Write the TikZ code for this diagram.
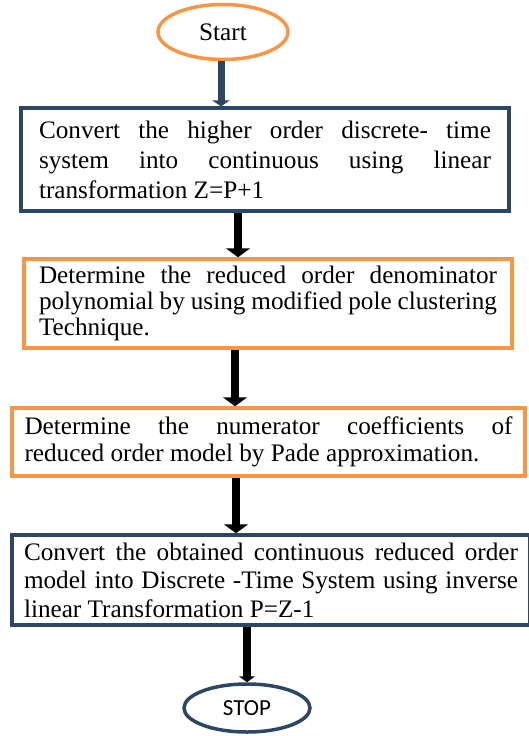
\documentclass[tikz,border=0pt]{standalone}
\usepackage{fontspec}
\setmainfont{Liberation Serif}
\newfontfamily\stopfont{Carlito}
\usetikzlibrary{shapes.geometric, arrows.meta}
\definecolor{flowor}{HTML}{F79646}
\definecolor{flowbl}{HTML}{2C4666}
\tolerance=10000 \hbadness=10000
\hyphenpenalty=10000 \exhyphenpenalty=10000
\tikzset{
  box/.style={draw, line width=3.5pt, inner sep=0pt, align=justify,
    font=\fontsize{25.2}{#1}\selectfont},
  box/.default=28,
  oval/.style={ellipse, draw, line width=3.5pt, inner sep=0pt},
  link/.style={line width=8pt, -{Triangle[width=24pt,length=9pt]}}
}

\begin{document}
\begin{tikzpicture}[x=1pt, y=-1pt]
\useasboundingbox (0,0) rectangle (528,736);

\node[oval, draw=flowor, minimum width=130pt, minimum height=55pt,
  font=\fontsize{25.2}{28}\selectfont] (start) at (223,32) {Start};
\node[box=30, draw=flowbl, text width=452pt, minimum width=488pt, minimum height=103pt] (convert) at (265,159.5)
  {Convert the higher order discrete- time\linebreak system into continuous using linear\linebreak transformation Z=P+1};
\node[box=26, draw=flowor, text width=458pt, minimum width=488pt, minimum height=89pt] (denom) at (268,303.5)
  {Determine the reduced order denominator\linebreak polynomial by using modified pole clustering\linebreak Technique.};
\node[box=27, draw=flowor, text width=488pt, minimum width=513pt, minimum height=68pt] (numer) at (268.5,442)
  {Determine the numerator coefficients of\linebreak reduced order model by Pade approximation.};
\node[box=28.5, draw=flowbl, text width=494pt, minimum width=518pt, minimum height=90pt] (inverse) at (271,580)
  {Convert the obtained continuous reduced order\linebreak model into Discrete -Time System using inverse\linebreak linear Transformation P=Z-1};
\node[oval, draw=flowbl, minimum width=126pt, minimum height=48pt,
  font=\stopfont\fontsize{23}{26}\selectfont] (stop) at (247,708) {STOP};

\draw[link, flowbl, line width=7pt, -{Triangle[width=18pt,length=6pt]}]
  ([xshift=-2pt]start.south) -- ([xshift=-44pt]convert.north);
\draw[link] ([xshift=-27pt]convert.south) -- ([xshift=-30pt]denom.north);
\draw[link] ([xshift=-33pt]denom.south) -- ([xshift=-33.5pt]numer.north);
\draw[link] ([xshift=-32.5pt]numer.south) -- ([xshift=-35pt]inverse.north);
\draw[link, -{Triangle[width=16pt,length=6pt]}]
  ([xshift=-24pt]inverse.south) -- (stop.north);

\end{tikzpicture}
\end{document}
